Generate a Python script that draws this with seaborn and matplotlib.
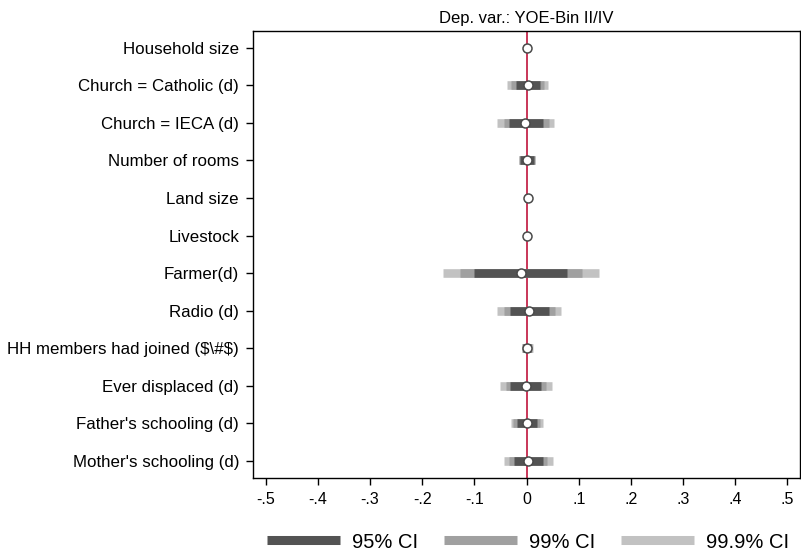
import matplotlib
matplotlib.use("Agg")
import matplotlib.pyplot as plt
from matplotlib.lines import Line2D
import seaborn as sns
import pandas as pd
import numpy as np

sns.set_theme(style="white")
plt.rcParams['font.family'] = ['Liberation Sans', 'DejaVu Sans']
plt.rcParams['text.color'] = 'black'
plt.rcParams['xtick.color'] = 'black'
plt.rcParams['ytick.color'] = 'black'
plt.rcParams['axes.labelcolor'] = 'black'

# ---- data ----
labels = [
    "Household size",
    "Church = Catholic (d)",
    "Church = IECA (d)",
    "Number of rooms",
    "Land size",
    "Livestock",
    "Farmer(d)",
    "Radio (d)",
    r"HH members had joined (\$\#\$)",
    "Ever displaced (d)",
    "Father's schooling (d)",
    "Mother's schooling (d)",
]
coef = [0.001, 0.002, -0.002, 0.000, 0.002, 0.001, -0.011, 0.005, 0.001, -0.001, 0.000, 0.003]
lo95 = [-0.002, -0.021, -0.034, -0.012, -0.001, -0.001, -0.100, -0.031, -0.006, -0.031, -0.018, -0.024]
hi95 = [0.004, 0.026, 0.032, 0.014, 0.004, 0.003, 0.078, 0.043, 0.008, 0.028, 0.020, 0.031]
lo99 = [-0.003, -0.029, -0.044, -0.0135, -0.002, -0.002, -0.128, -0.043, -0.008, -0.040, -0.026, -0.033]
hi99 = [0.005, 0.033, 0.043, 0.0155, 0.005, 0.004, 0.107, 0.054, 0.010, 0.037, 0.026, 0.040]
lo999 = [-0.004, -0.037, -0.056, -0.015, -0.003, -0.003, -0.160, -0.056, -0.009, -0.051, -0.030, -0.043]
hi999 = [0.006, 0.042, 0.053, 0.017, 0.006, 0.005, 0.139, 0.067, 0.0115, 0.048, 0.032, 0.050]

title = "Dep. var.: YOE-Bin II/IV"
xticks = [-0.5, -0.4, -0.3, -0.2, -0.1, 0.0, 0.1, 0.2, 0.3, 0.4, 0.5]
xticklabels = ["-.5", "-.4", "-.3", "-.2", "-.1", "0", ".1", ".2", ".3", ".4", ".5"]
ci_names = ["95% CI", "99% CI", "99.9% CI"]
ci_colors = ["#535353", "#a0a0a0", "#c2c2c2"]

df = pd.DataFrame({"var": labels, "coef": coef,
                   "lo95": lo95, "hi95": hi95,
                   "lo99": lo99, "hi99": hi99,
                   "lo999": lo999, "hi999": hi999})
df["pos"] = np.arange(len(df))

fig = plt.figure(figsize=(8.01, 5.55), dpi=100)
ax = fig.add_axes([253/801, 1-478/555, (800-253)/801, (478-31)/555])

ax.axvline(0, color="#c0143c", lw=1.2, zorder=1)

bar_lw = 6.2
ax.hlines(df["pos"], df["lo999"], df["hi999"], color=ci_colors[2], lw=bar_lw, zorder=2, capstyle="butt")
ax.hlines(df["pos"], df["lo99"], df["hi99"], color=ci_colors[1], lw=bar_lw, zorder=3, capstyle="butt")
ax.hlines(df["pos"], df["lo95"], df["hi95"], color=ci_colors[0], lw=bar_lw, zorder=4, capstyle="butt")

sns.scatterplot(data=df, x="coef", y="pos", ax=ax, s=42, marker="o",
                facecolor="white", edgecolor="#4a4a4a", linewidth=1.1,
                zorder=5, legend=False)

ax.set_ylim(11.45, -0.44)
ax.set_xlim(-0.524, 0.524)
ax.set_yticks(df["pos"])
ax.set_yticklabels(labels, fontsize=12.2, color="black")
ax.set_xticks(xticks)
ax.set_xticklabels(xticklabels, fontsize=11.5, color="black")
ax.set_xlabel("")
ax.set_ylabel("")
ax.tick_params(axis="both", which="major", direction="out", length=5, width=1,
               color="black", pad=5, left=True, bottom=True)
for sp in ax.spines.values():
    sp.set_visible(True)
    sp.set_color("black")
    sp.set_linewidth(1.0)
ax.set_title(title, fontsize=12, pad=6, color="black")

handles = [Line2D([0], [0], color=c, lw=6.5, solid_capstyle="butt") for c in ci_colors]
leg = fig.legend(handles, ci_names, loc="center", bbox_to_anchor=(528/801, 1-542/555),
                 ncol=3, frameon=False, fontsize=14.5, handlelength=3.6,
                 handletextpad=0.6, columnspacing=1.3)
for t in leg.get_texts():
    t.set_color("black")

fig.savefig("out.png", dpi=100)
